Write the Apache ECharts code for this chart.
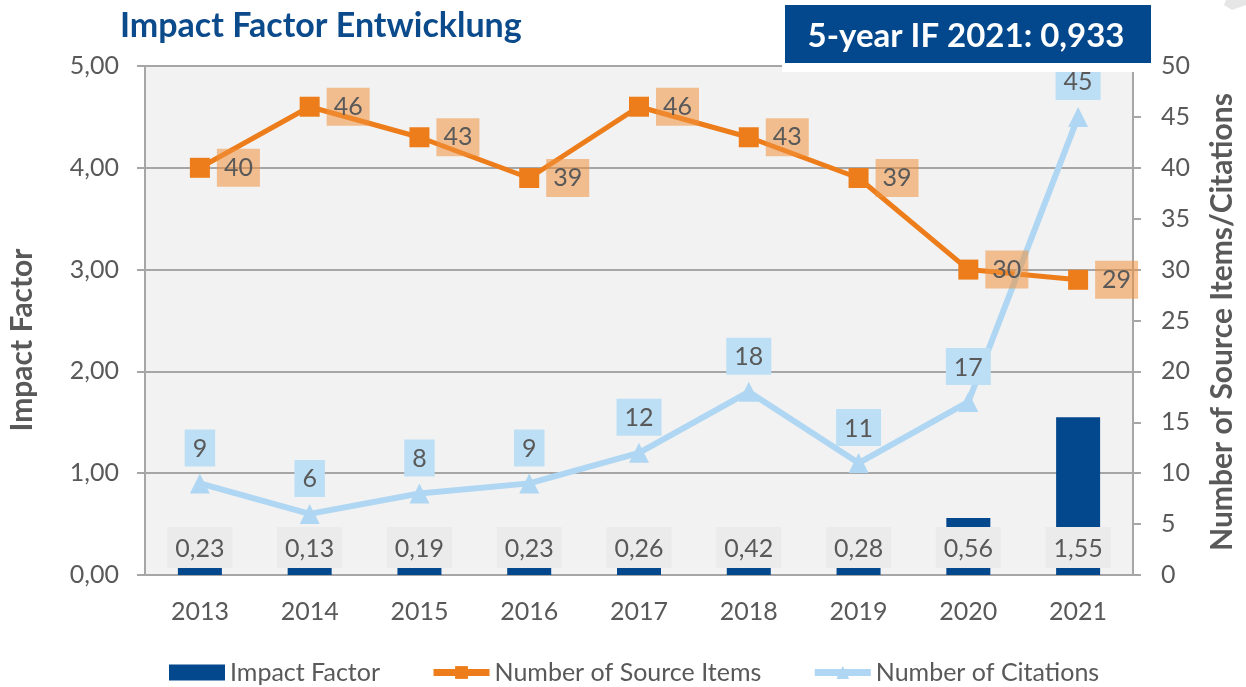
<!DOCTYPE html>
<html>
<head>
<meta charset="utf-8">
<script src="https://cdn.jsdelivr.net/npm/echarts@6/dist/echarts.min.js"></script>
<style>
  html, body { margin: 0; padding: 0; background: #fff; }
  #chart { width: 1246px; height: 687px; }
</style>
</head>
<body>
<div id="chart"></div>
<script>
var years = ['2013', '2014', '2015', '2016', '2017', '2018', '2019', '2020', '2021'];
var impactFactor = [0.23, 0.13, 0.19, 0.23, 0.26, 0.42, 0.28, 0.56, 1.55];
var sourceItems = [40, 46, 43, 39, 46, 43, 39, 30, 29];
var citations = [9, 6, 8, 9, 12, 18, 11, 17, 45];

var font = 'Lato';
var grey = '#595959';
var lineGrey = '#a6a6a6';

function comma(v) {
	return v.toFixed(2).replace('.', ',');
}

var chart = echarts.init(document.getElementById('chart'));

var option = {
	animation: false,
	textStyle: { fontFamily: font },
	title: {
		text: 'Impact Factor Entwicklung',
		left: 115,
		top: 4,
		textStyle: { color: '#0B4A8B', fontSize: 34, fontWeight: 'bold', fontFamily: font }
	},
	grid: {
		left: 145,
		right: 113,
		top: 66,
		bottom: 112,
		show: true,
		backgroundColor: '#f2f2f2',
		borderWidth: 0
	},
	legend: {
		top: 655,
		left: 164,
		itemWidth: 56,
		itemHeight: 16,
		itemGap: 50,
		lineStyle: { width: 7 },
		textStyle: { color: grey, fontSize: 25, fontFamily: font },
		data: [
			{ name: 'Impact Factor', icon: 'rect' },
			'Number of Source Items',
			'Number of Citations'
		]
	},
	xAxis: {
		type: 'category',
		data: years,
		axisTick: { show: false },
		axisLine: { lineStyle: { color: lineGrey, width: 2 } },
		axisLabel: { color: grey, fontSize: 25, margin: 24 }
	},
	yAxis: [
		{
			type: 'value',
			min: 0,
			max: 5,
			interval: 1,
			axisLine: { show: true, lineStyle: { color: lineGrey, width: 2 } },
			axisTick: { show: true, length: 8, lineStyle: { color: lineGrey, width: 2 } },
			splitLine: { lineStyle: { color: lineGrey, width: 2 } },
			axisLabel: { color: grey, fontSize: 25, margin: 26, formatter: comma }
		},
		{
			type: 'value',
			min: 0,
			max: 50,
			interval: 5,
			axisLine: { show: true, lineStyle: { color: lineGrey, width: 2 } },
			axisTick: { show: true, length: 8, lineStyle: { color: lineGrey, width: 2 } },
			splitLine: { show: false },
			axisLabel: { color: grey, fontSize: 25, margin: 28 }
		}
	],
	series: [
		{
			name: 'Impact Factor',
			type: 'bar',
			data: impactFactor,
			barWidth: 44,
			itemStyle: { color: '#03478C' },
			label: {
				show: true,
				position: 'insideBottom',
				distance: 7,
				formatter: function (p) { return comma(p.value); },
				color: grey,
				fontSize: 25,
				backgroundColor: '#ebebeb',
				padding: [9, 8, 7, 8]
			}
		},
		{
			name: 'Number of Source Items',
			type: 'line',
			yAxisIndex: 1,
			data: sourceItems,
			symbol: 'rect',
			symbolSize: 20,
			itemStyle: { color: '#ED7D1A' },
			lineStyle: { color: '#ED7D1A', width: 5 },
			label: {
				show: true,
				position: 'right',
				distance: 7,
				color: grey,
				fontSize: 25,
				backgroundColor: 'rgba(240,145,60,0.55)',
				padding: [7, 7, 6, 7]
			}
		},
		{
			name: 'Number of Citations',
			type: 'line',
			yAxisIndex: 1,
			data: citations,
			symbol: 'triangle',
			symbolSize: 20,
			itemStyle: { color: '#AFD6F2' },
			lineStyle: { color: '#AFD6F2', width: 6 },
			label: {
				show: true,
				position: 'top',
				distance: 7,
				color: grey,
				fontSize: 25,
				backgroundColor: '#BDDFF5',
				padding: [7, 8, 5, 8]
			}
		}
	],
	graphic: [
		{
			type: 'text',
			x: 22, y: 340,
			rotation: Math.PI / 2,
			style: {
				text: 'Impact Factor',
				fill: grey,
				font: 'bold 30px ' + font,
				textAlign: 'center',
				textVerticalAlign: 'middle'
			}
		},
		{
			type: 'text',
			x: 1222, y: 322,
			rotation: Math.PI / 2,
			style: {
				text: 'Number of Source Items/Citations',
				fill: grey,
				font: 'bold 30px ' + font,
				textAlign: 'center',
				textVerticalAlign: 'middle'
			}
		},
		{
			type: 'rect',
			shape: { x: 782, y: 2, width: 372, height: 70 },
			style: { fill: '#fff' },
			z: 100
		},
		{
			type: 'rect',
			shape: { x: 785, y: 5, width: 366, height: 58 },
			style: { fill: '#03478C' },
			z: 101
		},
		{
			type: 'text',
			x: 966, y: 36,
			z: 102,
			style: {
				text: '5-year IF 2021: 0,933',
				fill: '#fff',
				font: 'bold 33px ' + font,
				textAlign: 'center',
				textVerticalAlign: 'middle'
			}
		},
		{
			type: 'polygon',
			shape: { points: [[1226, 0], [1246, 0], [1246, 5], [1232, 10], [1224, 5]] },
			style: { fill: '#e6e6e6' }
		}
	]
};

chart.setOption(option);
</script>
</body>
</html>
